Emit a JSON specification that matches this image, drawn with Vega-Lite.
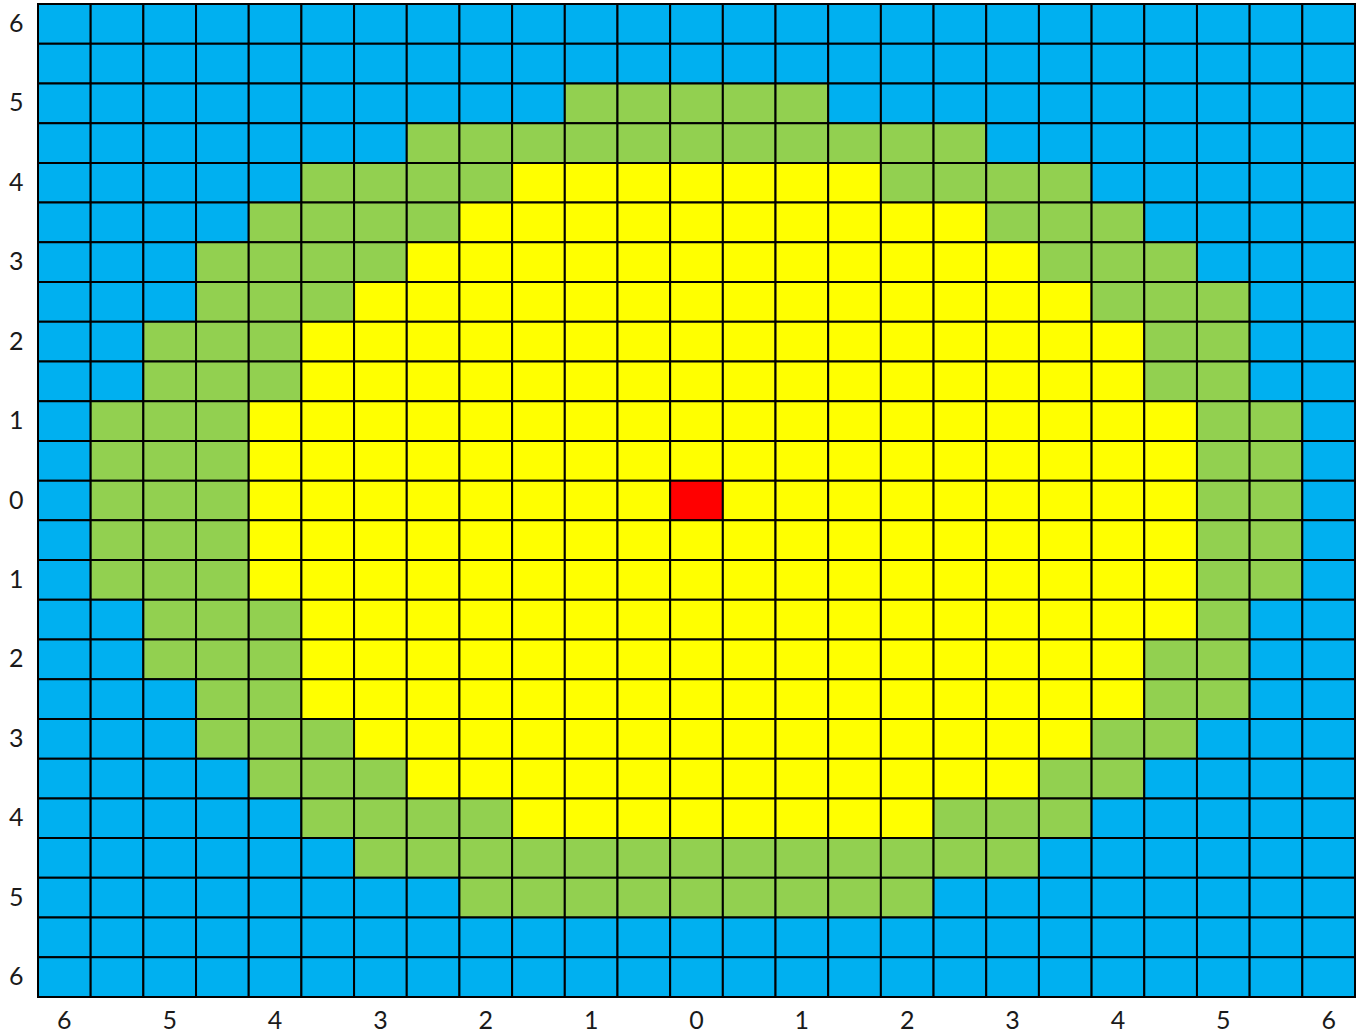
{
"$schema": "https://vega.github.io/schema/vega-lite/v6.json",
"width": 1317,
"height": 993,
"autosize": {"type": "none"},
"padding": {"left": 38, "top": 4, "right": 6, "bottom": 39},
"background": "white",
"config": {"view": {"stroke": null}},
"data": {"values": [
{"x":-6,"y":6,"z":"B"},{"x":-5.5,"y":6,"z":"B"},{"x":-5,"y":6,"z":"B"},{"x":-4.5,"y":6,"z":"B"},{"x":-4,"y":6,"z":"B"},{"x":-3.5,"y":6,"z":"B"},{"x":-3,"y":6,"z":"B"},{"x":-2.5,"y":6,"z":"B"},{"x":-2,"y":6,"z":"B"},{"x":-1.5,"y":6,"z":"B"},{"x":-1,"y":6,"z":"B"},{"x":-0.5,"y":6,"z":"B"},{"x":0,"y":6,"z":"B"},{"x":0.5,"y":6,"z":"B"},{"x":1,"y":6,"z":"B"},{"x":1.5,"y":6,"z":"B"},{"x":2,"y":6,"z":"B"},{"x":2.5,"y":6,"z":"B"},{"x":3,"y":6,"z":"B"},{"x":3.5,"y":6,"z":"B"},{"x":4,"y":6,"z":"B"},{"x":4.5,"y":6,"z":"B"},{"x":5,"y":6,"z":"B"},{"x":5.5,"y":6,"z":"B"},{"x":6,"y":6,"z":"B"},
{"x":-6,"y":5.5,"z":"B"},{"x":-5.5,"y":5.5,"z":"B"},{"x":-5,"y":5.5,"z":"B"},{"x":-4.5,"y":5.5,"z":"B"},{"x":-4,"y":5.5,"z":"B"},{"x":-3.5,"y":5.5,"z":"B"},{"x":-3,"y":5.5,"z":"B"},{"x":-2.5,"y":5.5,"z":"B"},{"x":-2,"y":5.5,"z":"B"},{"x":-1.5,"y":5.5,"z":"B"},{"x":-1,"y":5.5,"z":"B"},{"x":-0.5,"y":5.5,"z":"B"},{"x":0,"y":5.5,"z":"B"},{"x":0.5,"y":5.5,"z":"B"},{"x":1,"y":5.5,"z":"B"},{"x":1.5,"y":5.5,"z":"B"},{"x":2,"y":5.5,"z":"B"},{"x":2.5,"y":5.5,"z":"B"},{"x":3,"y":5.5,"z":"B"},{"x":3.5,"y":5.5,"z":"B"},{"x":4,"y":5.5,"z":"B"},{"x":4.5,"y":5.5,"z":"B"},{"x":5,"y":5.5,"z":"B"},{"x":5.5,"y":5.5,"z":"B"},{"x":6,"y":5.5,"z":"B"},
{"x":-6,"y":5,"z":"B"},{"x":-5.5,"y":5,"z":"B"},{"x":-5,"y":5,"z":"B"},{"x":-4.5,"y":5,"z":"B"},{"x":-4,"y":5,"z":"B"},{"x":-3.5,"y":5,"z":"B"},{"x":-3,"y":5,"z":"B"},{"x":-2.5,"y":5,"z":"B"},{"x":-2,"y":5,"z":"B"},{"x":-1.5,"y":5,"z":"B"},{"x":-1,"y":5,"z":"G"},{"x":-0.5,"y":5,"z":"G"},{"x":0,"y":5,"z":"G"},{"x":0.5,"y":5,"z":"G"},{"x":1,"y":5,"z":"G"},{"x":1.5,"y":5,"z":"B"},{"x":2,"y":5,"z":"B"},{"x":2.5,"y":5,"z":"B"},{"x":3,"y":5,"z":"B"},{"x":3.5,"y":5,"z":"B"},{"x":4,"y":5,"z":"B"},{"x":4.5,"y":5,"z":"B"},{"x":5,"y":5,"z":"B"},{"x":5.5,"y":5,"z":"B"},{"x":6,"y":5,"z":"B"},
{"x":-6,"y":4.5,"z":"B"},{"x":-5.5,"y":4.5,"z":"B"},{"x":-5,"y":4.5,"z":"B"},{"x":-4.5,"y":4.5,"z":"B"},{"x":-4,"y":4.5,"z":"B"},{"x":-3.5,"y":4.5,"z":"B"},{"x":-3,"y":4.5,"z":"B"},{"x":-2.5,"y":4.5,"z":"G"},{"x":-2,"y":4.5,"z":"G"},{"x":-1.5,"y":4.5,"z":"G"},{"x":-1,"y":4.5,"z":"G"},{"x":-0.5,"y":4.5,"z":"G"},{"x":0,"y":4.5,"z":"G"},{"x":0.5,"y":4.5,"z":"G"},{"x":1,"y":4.5,"z":"G"},{"x":1.5,"y":4.5,"z":"G"},{"x":2,"y":4.5,"z":"G"},{"x":2.5,"y":4.5,"z":"G"},{"x":3,"y":4.5,"z":"B"},{"x":3.5,"y":4.5,"z":"B"},{"x":4,"y":4.5,"z":"B"},{"x":4.5,"y":4.5,"z":"B"},{"x":5,"y":4.5,"z":"B"},{"x":5.5,"y":4.5,"z":"B"},{"x":6,"y":4.5,"z":"B"},
{"x":-6,"y":4,"z":"B"},{"x":-5.5,"y":4,"z":"B"},{"x":-5,"y":4,"z":"B"},{"x":-4.5,"y":4,"z":"B"},{"x":-4,"y":4,"z":"B"},{"x":-3.5,"y":4,"z":"G"},{"x":-3,"y":4,"z":"G"},{"x":-2.5,"y":4,"z":"G"},{"x":-2,"y":4,"z":"G"},{"x":-1.5,"y":4,"z":"Y"},{"x":-1,"y":4,"z":"Y"},{"x":-0.5,"y":4,"z":"Y"},{"x":0,"y":4,"z":"Y"},{"x":0.5,"y":4,"z":"Y"},{"x":1,"y":4,"z":"Y"},{"x":1.5,"y":4,"z":"Y"},{"x":2,"y":4,"z":"G"},{"x":2.5,"y":4,"z":"G"},{"x":3,"y":4,"z":"G"},{"x":3.5,"y":4,"z":"G"},{"x":4,"y":4,"z":"B"},{"x":4.5,"y":4,"z":"B"},{"x":5,"y":4,"z":"B"},{"x":5.5,"y":4,"z":"B"},{"x":6,"y":4,"z":"B"},
{"x":-6,"y":3.5,"z":"B"},{"x":-5.5,"y":3.5,"z":"B"},{"x":-5,"y":3.5,"z":"B"},{"x":-4.5,"y":3.5,"z":"B"},{"x":-4,"y":3.5,"z":"G"},{"x":-3.5,"y":3.5,"z":"G"},{"x":-3,"y":3.5,"z":"G"},{"x":-2.5,"y":3.5,"z":"G"},{"x":-2,"y":3.5,"z":"Y"},{"x":-1.5,"y":3.5,"z":"Y"},{"x":-1,"y":3.5,"z":"Y"},{"x":-0.5,"y":3.5,"z":"Y"},{"x":0,"y":3.5,"z":"Y"},{"x":0.5,"y":3.5,"z":"Y"},{"x":1,"y":3.5,"z":"Y"},{"x":1.5,"y":3.5,"z":"Y"},{"x":2,"y":3.5,"z":"Y"},{"x":2.5,"y":3.5,"z":"Y"},{"x":3,"y":3.5,"z":"G"},{"x":3.5,"y":3.5,"z":"G"},{"x":4,"y":3.5,"z":"G"},{"x":4.5,"y":3.5,"z":"B"},{"x":5,"y":3.5,"z":"B"},{"x":5.5,"y":3.5,"z":"B"},{"x":6,"y":3.5,"z":"B"},
{"x":-6,"y":3,"z":"B"},{"x":-5.5,"y":3,"z":"B"},{"x":-5,"y":3,"z":"B"},{"x":-4.5,"y":3,"z":"G"},{"x":-4,"y":3,"z":"G"},{"x":-3.5,"y":3,"z":"G"},{"x":-3,"y":3,"z":"G"},{"x":-2.5,"y":3,"z":"Y"},{"x":-2,"y":3,"z":"Y"},{"x":-1.5,"y":3,"z":"Y"},{"x":-1,"y":3,"z":"Y"},{"x":-0.5,"y":3,"z":"Y"},{"x":0,"y":3,"z":"Y"},{"x":0.5,"y":3,"z":"Y"},{"x":1,"y":3,"z":"Y"},{"x":1.5,"y":3,"z":"Y"},{"x":2,"y":3,"z":"Y"},{"x":2.5,"y":3,"z":"Y"},{"x":3,"y":3,"z":"Y"},{"x":3.5,"y":3,"z":"G"},{"x":4,"y":3,"z":"G"},{"x":4.5,"y":3,"z":"G"},{"x":5,"y":3,"z":"B"},{"x":5.5,"y":3,"z":"B"},{"x":6,"y":3,"z":"B"},
{"x":-6,"y":2.5,"z":"B"},{"x":-5.5,"y":2.5,"z":"B"},{"x":-5,"y":2.5,"z":"B"},{"x":-4.5,"y":2.5,"z":"G"},{"x":-4,"y":2.5,"z":"G"},{"x":-3.5,"y":2.5,"z":"G"},{"x":-3,"y":2.5,"z":"Y"},{"x":-2.5,"y":2.5,"z":"Y"},{"x":-2,"y":2.5,"z":"Y"},{"x":-1.5,"y":2.5,"z":"Y"},{"x":-1,"y":2.5,"z":"Y"},{"x":-0.5,"y":2.5,"z":"Y"},{"x":0,"y":2.5,"z":"Y"},{"x":0.5,"y":2.5,"z":"Y"},{"x":1,"y":2.5,"z":"Y"},{"x":1.5,"y":2.5,"z":"Y"},{"x":2,"y":2.5,"z":"Y"},{"x":2.5,"y":2.5,"z":"Y"},{"x":3,"y":2.5,"z":"Y"},{"x":3.5,"y":2.5,"z":"Y"},{"x":4,"y":2.5,"z":"G"},{"x":4.5,"y":2.5,"z":"G"},{"x":5,"y":2.5,"z":"G"},{"x":5.5,"y":2.5,"z":"B"},{"x":6,"y":2.5,"z":"B"},
{"x":-6,"y":2,"z":"B"},{"x":-5.5,"y":2,"z":"B"},{"x":-5,"y":2,"z":"G"},{"x":-4.5,"y":2,"z":"G"},{"x":-4,"y":2,"z":"G"},{"x":-3.5,"y":2,"z":"Y"},{"x":-3,"y":2,"z":"Y"},{"x":-2.5,"y":2,"z":"Y"},{"x":-2,"y":2,"z":"Y"},{"x":-1.5,"y":2,"z":"Y"},{"x":-1,"y":2,"z":"Y"},{"x":-0.5,"y":2,"z":"Y"},{"x":0,"y":2,"z":"Y"},{"x":0.5,"y":2,"z":"Y"},{"x":1,"y":2,"z":"Y"},{"x":1.5,"y":2,"z":"Y"},{"x":2,"y":2,"z":"Y"},{"x":2.5,"y":2,"z":"Y"},{"x":3,"y":2,"z":"Y"},{"x":3.5,"y":2,"z":"Y"},{"x":4,"y":2,"z":"Y"},{"x":4.5,"y":2,"z":"G"},{"x":5,"y":2,"z":"G"},{"x":5.5,"y":2,"z":"B"},{"x":6,"y":2,"z":"B"},
{"x":-6,"y":1.5,"z":"B"},{"x":-5.5,"y":1.5,"z":"B"},{"x":-5,"y":1.5,"z":"G"},{"x":-4.5,"y":1.5,"z":"G"},{"x":-4,"y":1.5,"z":"G"},{"x":-3.5,"y":1.5,"z":"Y"},{"x":-3,"y":1.5,"z":"Y"},{"x":-2.5,"y":1.5,"z":"Y"},{"x":-2,"y":1.5,"z":"Y"},{"x":-1.5,"y":1.5,"z":"Y"},{"x":-1,"y":1.5,"z":"Y"},{"x":-0.5,"y":1.5,"z":"Y"},{"x":0,"y":1.5,"z":"Y"},{"x":0.5,"y":1.5,"z":"Y"},{"x":1,"y":1.5,"z":"Y"},{"x":1.5,"y":1.5,"z":"Y"},{"x":2,"y":1.5,"z":"Y"},{"x":2.5,"y":1.5,"z":"Y"},{"x":3,"y":1.5,"z":"Y"},{"x":3.5,"y":1.5,"z":"Y"},{"x":4,"y":1.5,"z":"Y"},{"x":4.5,"y":1.5,"z":"G"},{"x":5,"y":1.5,"z":"G"},{"x":5.5,"y":1.5,"z":"B"},{"x":6,"y":1.5,"z":"B"},
{"x":-6,"y":1,"z":"B"},{"x":-5.5,"y":1,"z":"G"},{"x":-5,"y":1,"z":"G"},{"x":-4.5,"y":1,"z":"G"},{"x":-4,"y":1,"z":"Y"},{"x":-3.5,"y":1,"z":"Y"},{"x":-3,"y":1,"z":"Y"},{"x":-2.5,"y":1,"z":"Y"},{"x":-2,"y":1,"z":"Y"},{"x":-1.5,"y":1,"z":"Y"},{"x":-1,"y":1,"z":"Y"},{"x":-0.5,"y":1,"z":"Y"},{"x":0,"y":1,"z":"Y"},{"x":0.5,"y":1,"z":"Y"},{"x":1,"y":1,"z":"Y"},{"x":1.5,"y":1,"z":"Y"},{"x":2,"y":1,"z":"Y"},{"x":2.5,"y":1,"z":"Y"},{"x":3,"y":1,"z":"Y"},{"x":3.5,"y":1,"z":"Y"},{"x":4,"y":1,"z":"Y"},{"x":4.5,"y":1,"z":"Y"},{"x":5,"y":1,"z":"G"},{"x":5.5,"y":1,"z":"G"},{"x":6,"y":1,"z":"B"},
{"x":-6,"y":0.5,"z":"B"},{"x":-5.5,"y":0.5,"z":"G"},{"x":-5,"y":0.5,"z":"G"},{"x":-4.5,"y":0.5,"z":"G"},{"x":-4,"y":0.5,"z":"Y"},{"x":-3.5,"y":0.5,"z":"Y"},{"x":-3,"y":0.5,"z":"Y"},{"x":-2.5,"y":0.5,"z":"Y"},{"x":-2,"y":0.5,"z":"Y"},{"x":-1.5,"y":0.5,"z":"Y"},{"x":-1,"y":0.5,"z":"Y"},{"x":-0.5,"y":0.5,"z":"Y"},{"x":0,"y":0.5,"z":"Y"},{"x":0.5,"y":0.5,"z":"Y"},{"x":1,"y":0.5,"z":"Y"},{"x":1.5,"y":0.5,"z":"Y"},{"x":2,"y":0.5,"z":"Y"},{"x":2.5,"y":0.5,"z":"Y"},{"x":3,"y":0.5,"z":"Y"},{"x":3.5,"y":0.5,"z":"Y"},{"x":4,"y":0.5,"z":"Y"},{"x":4.5,"y":0.5,"z":"Y"},{"x":5,"y":0.5,"z":"G"},{"x":5.5,"y":0.5,"z":"G"},{"x":6,"y":0.5,"z":"B"},
{"x":-6,"y":0,"z":"B"},{"x":-5.5,"y":0,"z":"G"},{"x":-5,"y":0,"z":"G"},{"x":-4.5,"y":0,"z":"G"},{"x":-4,"y":0,"z":"Y"},{"x":-3.5,"y":0,"z":"Y"},{"x":-3,"y":0,"z":"Y"},{"x":-2.5,"y":0,"z":"Y"},{"x":-2,"y":0,"z":"Y"},{"x":-1.5,"y":0,"z":"Y"},{"x":-1,"y":0,"z":"Y"},{"x":-0.5,"y":0,"z":"Y"},{"x":0,"y":0,"z":"R"},{"x":0.5,"y":0,"z":"Y"},{"x":1,"y":0,"z":"Y"},{"x":1.5,"y":0,"z":"Y"},{"x":2,"y":0,"z":"Y"},{"x":2.5,"y":0,"z":"Y"},{"x":3,"y":0,"z":"Y"},{"x":3.5,"y":0,"z":"Y"},{"x":4,"y":0,"z":"Y"},{"x":4.5,"y":0,"z":"Y"},{"x":5,"y":0,"z":"G"},{"x":5.5,"y":0,"z":"G"},{"x":6,"y":0,"z":"B"},
{"x":-6,"y":-0.5,"z":"B"},{"x":-5.5,"y":-0.5,"z":"G"},{"x":-5,"y":-0.5,"z":"G"},{"x":-4.5,"y":-0.5,"z":"G"},{"x":-4,"y":-0.5,"z":"Y"},{"x":-3.5,"y":-0.5,"z":"Y"},{"x":-3,"y":-0.5,"z":"Y"},{"x":-2.5,"y":-0.5,"z":"Y"},{"x":-2,"y":-0.5,"z":"Y"},{"x":-1.5,"y":-0.5,"z":"Y"},{"x":-1,"y":-0.5,"z":"Y"},{"x":-0.5,"y":-0.5,"z":"Y"},{"x":0,"y":-0.5,"z":"Y"},{"x":0.5,"y":-0.5,"z":"Y"},{"x":1,"y":-0.5,"z":"Y"},{"x":1.5,"y":-0.5,"z":"Y"},{"x":2,"y":-0.5,"z":"Y"},{"x":2.5,"y":-0.5,"z":"Y"},{"x":3,"y":-0.5,"z":"Y"},{"x":3.5,"y":-0.5,"z":"Y"},{"x":4,"y":-0.5,"z":"Y"},{"x":4.5,"y":-0.5,"z":"Y"},{"x":5,"y":-0.5,"z":"G"},{"x":5.5,"y":-0.5,"z":"G"},{"x":6,"y":-0.5,"z":"B"},
{"x":-6,"y":-1,"z":"B"},{"x":-5.5,"y":-1,"z":"G"},{"x":-5,"y":-1,"z":"G"},{"x":-4.5,"y":-1,"z":"G"},{"x":-4,"y":-1,"z":"Y"},{"x":-3.5,"y":-1,"z":"Y"},{"x":-3,"y":-1,"z":"Y"},{"x":-2.5,"y":-1,"z":"Y"},{"x":-2,"y":-1,"z":"Y"},{"x":-1.5,"y":-1,"z":"Y"},{"x":-1,"y":-1,"z":"Y"},{"x":-0.5,"y":-1,"z":"Y"},{"x":0,"y":-1,"z":"Y"},{"x":0.5,"y":-1,"z":"Y"},{"x":1,"y":-1,"z":"Y"},{"x":1.5,"y":-1,"z":"Y"},{"x":2,"y":-1,"z":"Y"},{"x":2.5,"y":-1,"z":"Y"},{"x":3,"y":-1,"z":"Y"},{"x":3.5,"y":-1,"z":"Y"},{"x":4,"y":-1,"z":"Y"},{"x":4.5,"y":-1,"z":"Y"},{"x":5,"y":-1,"z":"G"},{"x":5.5,"y":-1,"z":"G"},{"x":6,"y":-1,"z":"B"},
{"x":-6,"y":-1.5,"z":"B"},{"x":-5.5,"y":-1.5,"z":"B"},{"x":-5,"y":-1.5,"z":"G"},{"x":-4.5,"y":-1.5,"z":"G"},{"x":-4,"y":-1.5,"z":"G"},{"x":-3.5,"y":-1.5,"z":"Y"},{"x":-3,"y":-1.5,"z":"Y"},{"x":-2.5,"y":-1.5,"z":"Y"},{"x":-2,"y":-1.5,"z":"Y"},{"x":-1.5,"y":-1.5,"z":"Y"},{"x":-1,"y":-1.5,"z":"Y"},{"x":-0.5,"y":-1.5,"z":"Y"},{"x":0,"y":-1.5,"z":"Y"},{"x":0.5,"y":-1.5,"z":"Y"},{"x":1,"y":-1.5,"z":"Y"},{"x":1.5,"y":-1.5,"z":"Y"},{"x":2,"y":-1.5,"z":"Y"},{"x":2.5,"y":-1.5,"z":"Y"},{"x":3,"y":-1.5,"z":"Y"},{"x":3.5,"y":-1.5,"z":"Y"},{"x":4,"y":-1.5,"z":"Y"},{"x":4.5,"y":-1.5,"z":"Y"},{"x":5,"y":-1.5,"z":"G"},{"x":5.5,"y":-1.5,"z":"B"},{"x":6,"y":-1.5,"z":"B"},
{"x":-6,"y":-2,"z":"B"},{"x":-5.5,"y":-2,"z":"B"},{"x":-5,"y":-2,"z":"G"},{"x":-4.5,"y":-2,"z":"G"},{"x":-4,"y":-2,"z":"G"},{"x":-3.5,"y":-2,"z":"Y"},{"x":-3,"y":-2,"z":"Y"},{"x":-2.5,"y":-2,"z":"Y"},{"x":-2,"y":-2,"z":"Y"},{"x":-1.5,"y":-2,"z":"Y"},{"x":-1,"y":-2,"z":"Y"},{"x":-0.5,"y":-2,"z":"Y"},{"x":0,"y":-2,"z":"Y"},{"x":0.5,"y":-2,"z":"Y"},{"x":1,"y":-2,"z":"Y"},{"x":1.5,"y":-2,"z":"Y"},{"x":2,"y":-2,"z":"Y"},{"x":2.5,"y":-2,"z":"Y"},{"x":3,"y":-2,"z":"Y"},{"x":3.5,"y":-2,"z":"Y"},{"x":4,"y":-2,"z":"Y"},{"x":4.5,"y":-2,"z":"G"},{"x":5,"y":-2,"z":"G"},{"x":5.5,"y":-2,"z":"B"},{"x":6,"y":-2,"z":"B"},
{"x":-6,"y":-2.5,"z":"B"},{"x":-5.5,"y":-2.5,"z":"B"},{"x":-5,"y":-2.5,"z":"B"},{"x":-4.5,"y":-2.5,"z":"G"},{"x":-4,"y":-2.5,"z":"G"},{"x":-3.5,"y":-2.5,"z":"Y"},{"x":-3,"y":-2.5,"z":"Y"},{"x":-2.5,"y":-2.5,"z":"Y"},{"x":-2,"y":-2.5,"z":"Y"},{"x":-1.5,"y":-2.5,"z":"Y"},{"x":-1,"y":-2.5,"z":"Y"},{"x":-0.5,"y":-2.5,"z":"Y"},{"x":0,"y":-2.5,"z":"Y"},{"x":0.5,"y":-2.5,"z":"Y"},{"x":1,"y":-2.5,"z":"Y"},{"x":1.5,"y":-2.5,"z":"Y"},{"x":2,"y":-2.5,"z":"Y"},{"x":2.5,"y":-2.5,"z":"Y"},{"x":3,"y":-2.5,"z":"Y"},{"x":3.5,"y":-2.5,"z":"Y"},{"x":4,"y":-2.5,"z":"Y"},{"x":4.5,"y":-2.5,"z":"G"},{"x":5,"y":-2.5,"z":"G"},{"x":5.5,"y":-2.5,"z":"B"},{"x":6,"y":-2.5,"z":"B"},
{"x":-6,"y":-3,"z":"B"},{"x":-5.5,"y":-3,"z":"B"},{"x":-5,"y":-3,"z":"B"},{"x":-4.5,"y":-3,"z":"G"},{"x":-4,"y":-3,"z":"G"},{"x":-3.5,"y":-3,"z":"G"},{"x":-3,"y":-3,"z":"Y"},{"x":-2.5,"y":-3,"z":"Y"},{"x":-2,"y":-3,"z":"Y"},{"x":-1.5,"y":-3,"z":"Y"},{"x":-1,"y":-3,"z":"Y"},{"x":-0.5,"y":-3,"z":"Y"},{"x":0,"y":-3,"z":"Y"},{"x":0.5,"y":-3,"z":"Y"},{"x":1,"y":-3,"z":"Y"},{"x":1.5,"y":-3,"z":"Y"},{"x":2,"y":-3,"z":"Y"},{"x":2.5,"y":-3,"z":"Y"},{"x":3,"y":-3,"z":"Y"},{"x":3.5,"y":-3,"z":"Y"},{"x":4,"y":-3,"z":"G"},{"x":4.5,"y":-3,"z":"G"},{"x":5,"y":-3,"z":"B"},{"x":5.5,"y":-3,"z":"B"},{"x":6,"y":-3,"z":"B"},
{"x":-6,"y":-3.5,"z":"B"},{"x":-5.5,"y":-3.5,"z":"B"},{"x":-5,"y":-3.5,"z":"B"},{"x":-4.5,"y":-3.5,"z":"B"},{"x":-4,"y":-3.5,"z":"G"},{"x":-3.5,"y":-3.5,"z":"G"},{"x":-3,"y":-3.5,"z":"G"},{"x":-2.5,"y":-3.5,"z":"Y"},{"x":-2,"y":-3.5,"z":"Y"},{"x":-1.5,"y":-3.5,"z":"Y"},{"x":-1,"y":-3.5,"z":"Y"},{"x":-0.5,"y":-3.5,"z":"Y"},{"x":0,"y":-3.5,"z":"Y"},{"x":0.5,"y":-3.5,"z":"Y"},{"x":1,"y":-3.5,"z":"Y"},{"x":1.5,"y":-3.5,"z":"Y"},{"x":2,"y":-3.5,"z":"Y"},{"x":2.5,"y":-3.5,"z":"Y"},{"x":3,"y":-3.5,"z":"Y"},{"x":3.5,"y":-3.5,"z":"G"},{"x":4,"y":-3.5,"z":"G"},{"x":4.5,"y":-3.5,"z":"B"},{"x":5,"y":-3.5,"z":"B"},{"x":5.5,"y":-3.5,"z":"B"},{"x":6,"y":-3.5,"z":"B"},
{"x":-6,"y":-4,"z":"B"},{"x":-5.5,"y":-4,"z":"B"},{"x":-5,"y":-4,"z":"B"},{"x":-4.5,"y":-4,"z":"B"},{"x":-4,"y":-4,"z":"B"},{"x":-3.5,"y":-4,"z":"G"},{"x":-3,"y":-4,"z":"G"},{"x":-2.5,"y":-4,"z":"G"},{"x":-2,"y":-4,"z":"G"},{"x":-1.5,"y":-4,"z":"Y"},{"x":-1,"y":-4,"z":"Y"},{"x":-0.5,"y":-4,"z":"Y"},{"x":0,"y":-4,"z":"Y"},{"x":0.5,"y":-4,"z":"Y"},{"x":1,"y":-4,"z":"Y"},{"x":1.5,"y":-4,"z":"Y"},{"x":2,"y":-4,"z":"Y"},{"x":2.5,"y":-4,"z":"G"},{"x":3,"y":-4,"z":"G"},{"x":3.5,"y":-4,"z":"G"},{"x":4,"y":-4,"z":"B"},{"x":4.5,"y":-4,"z":"B"},{"x":5,"y":-4,"z":"B"},{"x":5.5,"y":-4,"z":"B"},{"x":6,"y":-4,"z":"B"},
{"x":-6,"y":-4.5,"z":"B"},{"x":-5.5,"y":-4.5,"z":"B"},{"x":-5,"y":-4.5,"z":"B"},{"x":-4.5,"y":-4.5,"z":"B"},{"x":-4,"y":-4.5,"z":"B"},{"x":-3.5,"y":-4.5,"z":"B"},{"x":-3,"y":-4.5,"z":"G"},{"x":-2.5,"y":-4.5,"z":"G"},{"x":-2,"y":-4.5,"z":"G"},{"x":-1.5,"y":-4.5,"z":"G"},{"x":-1,"y":-4.5,"z":"G"},{"x":-0.5,"y":-4.5,"z":"G"},{"x":0,"y":-4.5,"z":"G"},{"x":0.5,"y":-4.5,"z":"G"},{"x":1,"y":-4.5,"z":"G"},{"x":1.5,"y":-4.5,"z":"G"},{"x":2,"y":-4.5,"z":"G"},{"x":2.5,"y":-4.5,"z":"G"},{"x":3,"y":-4.5,"z":"G"},{"x":3.5,"y":-4.5,"z":"B"},{"x":4,"y":-4.5,"z":"B"},{"x":4.5,"y":-4.5,"z":"B"},{"x":5,"y":-4.5,"z":"B"},{"x":5.5,"y":-4.5,"z":"B"},{"x":6,"y":-4.5,"z":"B"},
{"x":-6,"y":-5,"z":"B"},{"x":-5.5,"y":-5,"z":"B"},{"x":-5,"y":-5,"z":"B"},{"x":-4.5,"y":-5,"z":"B"},{"x":-4,"y":-5,"z":"B"},{"x":-3.5,"y":-5,"z":"B"},{"x":-3,"y":-5,"z":"B"},{"x":-2.5,"y":-5,"z":"B"},{"x":-2,"y":-5,"z":"G"},{"x":-1.5,"y":-5,"z":"G"},{"x":-1,"y":-5,"z":"G"},{"x":-0.5,"y":-5,"z":"G"},{"x":0,"y":-5,"z":"G"},{"x":0.5,"y":-5,"z":"G"},{"x":1,"y":-5,"z":"G"},{"x":1.5,"y":-5,"z":"G"},{"x":2,"y":-5,"z":"G"},{"x":2.5,"y":-5,"z":"B"},{"x":3,"y":-5,"z":"B"},{"x":3.5,"y":-5,"z":"B"},{"x":4,"y":-5,"z":"B"},{"x":4.5,"y":-5,"z":"B"},{"x":5,"y":-5,"z":"B"},{"x":5.5,"y":-5,"z":"B"},{"x":6,"y":-5,"z":"B"},
{"x":-6,"y":-5.5,"z":"B"},{"x":-5.5,"y":-5.5,"z":"B"},{"x":-5,"y":-5.5,"z":"B"},{"x":-4.5,"y":-5.5,"z":"B"},{"x":-4,"y":-5.5,"z":"B"},{"x":-3.5,"y":-5.5,"z":"B"},{"x":-3,"y":-5.5,"z":"B"},{"x":-2.5,"y":-5.5,"z":"B"},{"x":-2,"y":-5.5,"z":"B"},{"x":-1.5,"y":-5.5,"z":"B"},{"x":-1,"y":-5.5,"z":"B"},{"x":-0.5,"y":-5.5,"z":"B"},{"x":0,"y":-5.5,"z":"B"},{"x":0.5,"y":-5.5,"z":"B"},{"x":1,"y":-5.5,"z":"B"},{"x":1.5,"y":-5.5,"z":"B"},{"x":2,"y":-5.5,"z":"B"},{"x":2.5,"y":-5.5,"z":"B"},{"x":3,"y":-5.5,"z":"B"},{"x":3.5,"y":-5.5,"z":"B"},{"x":4,"y":-5.5,"z":"B"},{"x":4.5,"y":-5.5,"z":"B"},{"x":5,"y":-5.5,"z":"B"},{"x":5.5,"y":-5.5,"z":"B"},{"x":6,"y":-5.5,"z":"B"},
{"x":-6,"y":-6,"z":"B"},{"x":-5.5,"y":-6,"z":"B"},{"x":-5,"y":-6,"z":"B"},{"x":-4.5,"y":-6,"z":"B"},{"x":-4,"y":-6,"z":"B"},{"x":-3.5,"y":-6,"z":"B"},{"x":-3,"y":-6,"z":"B"},{"x":-2.5,"y":-6,"z":"B"},{"x":-2,"y":-6,"z":"B"},{"x":-1.5,"y":-6,"z":"B"},{"x":-1,"y":-6,"z":"B"},{"x":-0.5,"y":-6,"z":"B"},{"x":0,"y":-6,"z":"B"},{"x":0.5,"y":-6,"z":"B"},{"x":1,"y":-6,"z":"B"},{"x":1.5,"y":-6,"z":"B"},{"x":2,"y":-6,"z":"B"},{"x":2.5,"y":-6,"z":"B"},{"x":3,"y":-6,"z":"B"},{"x":3.5,"y":-6,"z":"B"},{"x":4,"y":-6,"z":"B"},{"x":4.5,"y":-6,"z":"B"},{"x":5,"y":-6,"z":"B"},{"x":5.5,"y":-6,"z":"B"},{"x":6,"y":-6,"z":"B"}
]},
"mark": {"type": "rect", "stroke": "black", "strokeWidth": 2},
"encoding": {
  "x": {"field": "x", "type": "ordinal", "sort": "ascending",
        "scale": {"paddingInner": 0, "paddingOuter": 0},
        "axis": {"title": null, "labelExpr": "datum.value % 1 == 0 ? '' + abs(datum.value) : ''", "labelAngle": 0, "ticks": false, "domain": false, "labelFontSize": 25, "labelFont": "Lato", "labelColor": "#1a1a1a", "labelPadding": 11}},
  "y": {"field": "y", "type": "ordinal", "sort": "descending",
        "scale": {"paddingInner": 0, "paddingOuter": 0},
        "axis": {"title": null, "labelExpr": "datum.value % 1 == 0 ? '' + abs(datum.value) : ''", "ticks": false, "domain": false, "labelFontSize": 25, "labelFont": "Lato", "labelColor": "#1a1a1a", "labelPadding": 15, "labelDy": 4}},
  "color": {"field": "z", "type": "nominal",
            "scale": {"domain": ["B", "G", "Y", "R"], "range": ["#00B0F0", "#92D050", "#FFFF00", "#FF0000"]},
            "legend": null}
}
}
